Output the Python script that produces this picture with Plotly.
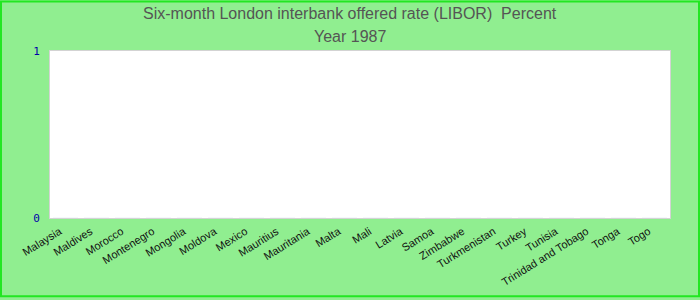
import plotly.graph_objects as go

countries = ["Malaysia", "Maldives", "Morocco", "Montenegro", "Mongolia", "Moldova",
             "Mexico", "Mauritius", "Mauritania", "Malta", "Mali", "Latvia", "Samoa",
             "Zimbabwe", "Turkmenistan", "Turkey", "Tunisia", "Trinidad and Tobago",
             "Tonga", "Togo"]
values = [0] * len(countries)

W, H = 700, 300
ml, mr, mt, mb = 50, 30, 51, 80
pw, ph = W - ml - mr, H - mt - mb

fig = go.Figure(go.Bar(x=countries, y=values, marker_color="#4472c4"))

cx = (W / 2 - ml) / pw  # paper-centre in plot-fraction coords

fig.update_layout(
    width=W, height=H,
    margin=dict(l=ml, r=mr, t=mt, b=mb, pad=0),
    paper_bgcolor="#90EE90",
    plot_bgcolor="white",
    showlegend=False,
    font=dict(family="Liberation Sans, Arial, sans-serif"),
    annotations=[
        dict(text="Six-month London interbank offered rate (LIBOR)  Percent",
             xref="paper", yref="paper", x=cx, y=1 + (mt - 13) / ph,
             xanchor="center", yanchor="middle", showarrow=False,
             font=dict(size=16, color="#555555")),
        dict(text="Year 1987",
             xref="paper", yref="paper", x=cx, y=1 + (mt - 36) / ph,
             xanchor="center", yanchor="middle", showarrow=False,
             font=dict(size=16, color="#555555")),
    ],
    shapes=[
        dict(type="rect", xref="paper", yref="paper",
             x0=(-ml + 1) / pw, x1=1 + (mr - 1) / pw,
             y0=(-mb + 0.75) / ph, y1=1 + (mt - 1) / ph,
             line=dict(color="#22E622", width=2), layer="above"),
    ],
)

fig.update_xaxes(
    type="category", tickangle=-32, showline=True, mirror=True,
    linecolor="#d3d3d3", linewidth=1, showgrid=False, ticks="",
    tickfont=dict(size=11, color="#111111", family="Liberation Sans, Arial, sans-serif"),
    ticklabelshift=-6, ticklabelstandoff=2,
)
fig.update_yaxes(
    range=[0, 1], tickvals=[0, 1], showline=True, mirror=True,
    linecolor="#d3d3d3", linewidth=1, showgrid=False, zeroline=False, ticks="",
    tickfont=dict(size=11, color="#0000AA", family="DejaVu Sans Mono, monospace"),
    ticklabelstandoff=7,
)

fig.write_html("out.html")
